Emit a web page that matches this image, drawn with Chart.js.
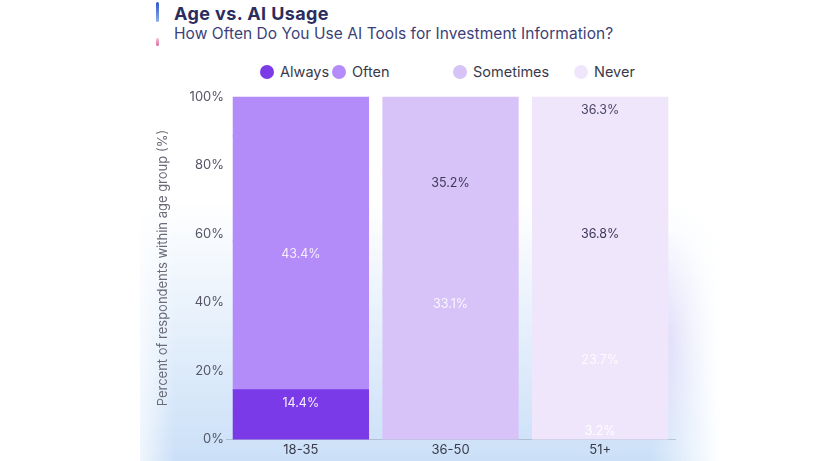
<!DOCTYPE html>
<html>
<head>
<meta charset="utf-8">
<script src="https://cdn.jsdelivr.net/npm/chart.js@4.4.1/dist/chart.umd.min.js"></script>
<style>
  html, body { margin: 0; padding: 0; background: #ffffff; }
  body { width: 820px; height: 461px; position: relative; overflow: hidden; font-family: 'Inter', sans-serif; }
  .glow {
    position: absolute; left: 140px; top: 90px; width: 580px; height: 371px;
    background:
      radial-gradient(ellipse 50px 110px at 530px 250px, rgba(200, 178, 245, 0.45), rgba(255,255,255,0) 100%),
      linear-gradient(to bottom, rgba(255,255,255,0) 30%, rgba(200, 222, 247, 0.95) 100%);
    -webkit-mask-image: linear-gradient(to right, rgba(0,0,0,0.3) 0%, #000 6%, #000 88%, rgba(0,0,0,0) 100%);
    mask-image: linear-gradient(to right, rgba(0,0,0,0.3) 0%, #000 6%, #000 88%, rgba(0,0,0,0) 100%);
  }
  .accent { position: absolute; left: 156px; top: 2px; width: 3px; height: 20px; border-radius: 2px;
    background: linear-gradient(to bottom, #2c55c8, #8fb0ea); }
  .accent2 { position: absolute; left: 156px; top: 38px; width: 3px; height: 8px; border-radius: 2px;
    background: linear-gradient(to bottom, #f4c4d8, #e06a9c); }
  .title { position: absolute; left: 174px; top: 3px; font-size: 18px; font-weight: 700; color: #2b2d5e; letter-spacing: 0.4px; }
  .subtitle { position: absolute; left: 174px; top: 24px; font-size: 15.5px; color: #3d3f78; letter-spacing: 0.05px; }
  .legend-item { position: absolute; top: 62px; height: 20px; line-height: 20px; font-size: 14.5px; color: #3a3a4a; }
  .legend-item i { position: absolute; left: -20px; top: 3px; width: 14px; height: 14px; border-radius: 50%; }
  .wrap { position: absolute; left: 100px; top: 87px; width: 700px; height: 374px; }
</style>
</head>
<body>
<div class="glow"></div>
<div class="accent"></div>
<div class="accent2"></div>
<div class="title">Age vs. AI Usage</div>
<div class="subtitle">How Often Do You Use AI Tools for Investment Information?</div>
<div id="legend"></div>
<div class="wrap"><canvas id="chart"></canvas></div>
<script>
const ageGroups = ['18-35', '36-50', '51+'];
const seriesNames = ['Always', 'Often', 'Sometimes', 'Never'];
const always = [14.4, 10.2, 3.2];
const often = [43.4, 33.1, 23.7];
const sometimes = [30.8, 35.2, 36.8];
const never = [11.4, 21.5, 36.3];
const yTicks = [0, 20, 40, 60, 80, 100];

// which value labels are visible in the picture
const showAlways = [true, false, true];
const showOften = [true, true, true];
const showSometimes = [false, true, true];
const showNever = [false, false, true];

const legendColors = ['#7b3ae8', '#b48cfa', '#d7c3f8', '#efe6fc'];
const legendLeft = [280, 352, 473, 594];
const barColors = ['#b48cfa', '#d7c3f8', '#efe6fc'];
const labelColors = ['rgba(255,255,255,0.92)', 'rgba(255,255,255,0.85)', '#3c3858', '#4a4663'];

const values = [always, often, sometimes, never];
const shown = [showAlways, showOften, showSometimes, showNever];

// legend as html, items sit at the spots they have in the picture
const legendEl = document.getElementById('legend');
seriesNames.forEach((name, i) => {
    const item = document.createElement('div');
    item.className = 'legend-item';
    item.style.left = legendLeft[i] + 'px';
    item.innerHTML = '<i style="background:' + legendColors[i] + '"></i>' + name;
    legendEl.appendChild(item);
});

const datasets = seriesNames.map((name, i) => ({
    label: name,
    data: values[i],
    backgroundColor: i === 0 ? [legendColors[0], barColors[1], barColors[2]] : barColors,
    borderWidth: 0,
    inflateAmount: 0.8,
    barPercentage: 0.9,
    categoryPercentage: 1.0
}));

// draws the value labels near the top of each segment
const segmentLabels = {
    id: 'segmentLabels',
    afterDatasetsDraw(chart) {
        const ctx = chart.ctx;
        ctx.save();
        ctx.font = "12.5px 'Inter', sans-serif";
        ctx.textAlign = 'center';
        ctx.textBaseline = 'middle';
        chart.data.datasets.forEach((ds, i) => {
            const meta = chart.getDatasetMeta(i);
            meta.data.forEach((bar, j) => {
                if (!shown[i][j]) return;
                const y = Math.min(bar.y + 13, bar.base - 8);
                ctx.fillStyle = labelColors[i];
                ctx.fillText(ds.data[j].toFixed(1) + '%', bar.x, y);
            });
        });
        ctx.restore();
    }
};

new Chart(document.getElementById('chart').getContext('2d'), {
    type: 'bar',
    data: { labels: ageGroups, datasets: datasets },
    plugins: [segmentLabels],
    options: {
        responsive: true,
        maintainAspectRatio: false,
        animation: false,
        layout: { padding: { left: 54, right: 125, top: 0, bottom: 0 } },
        plugins: {
            legend: { display: false },
            tooltip: { enabled: false }
        },
        scales: {
            x: {
                stacked: true,
                grid: { display: false, drawTicks: false },
                border: { color: 'rgba(120,130,150,0.35)' },
                ticks: { color: '#3a3a4a', font: { family: "'Inter', sans-serif", size: 13 }, padding: 3 }
            },
            y: {
                stacked: true,
                min: 0,
                max: 100,
                afterBuildTicks: axis => { axis.ticks = yTicks.map(v => ({ value: v })); },
                grid: { display: false, drawTicks: false },
                border: { display: false },
                ticks: {
                    color: '#555566',
                    font: { family: "'Inter', sans-serif", size: 13 },
                    padding: 2,
                    callback: v => v + '%'
                },
                title: {
                    display: true,
                    text: 'Percent of respondents within age group (%)',
                    color: '#6a6a78',
                    font: { family: "'Inter', sans-serif", size: 13 },
                    padding: { top: 1, bottom: 17 }
                }
            }
        }
    }
});
</script>
</body>
</html>
